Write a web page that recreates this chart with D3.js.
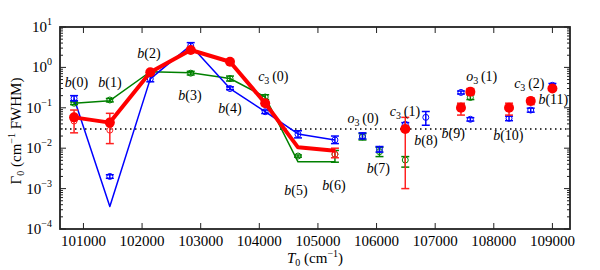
<!DOCTYPE html>
<html>
<head>
<meta charset="utf-8">
<script src="https://cdnjs.cloudflare.com/ajax/libs/d3/7.8.5/d3.min.js"></script>
<style>
  body { margin: 0; background: #fff; }
  text { font-family: "Liberation Serif", "DejaVu Serif", serif; fill: #000; }
</style>
</head>
<body>
<svg width="600" height="270"></svg>
<script>
// band positions (cm^-1)
const bandX = [100840, 101450, 102140, 102830, 103500, 104100, 104660, 105290];

// calculated widths (lines)
const blueLine  = [0.17, 0.00036, 0.52, 3.5, 0.30, 0.080, 0.0225, 0.016];
const greenLine = [0.13, 0.15, 0.78, 0.74, 0.53, 0.185, 0.0046, 0.0046];
const redLine   = [0.058, 0.043, 0.76, 2.7, 1.38, 0.13, 0.0105, 0.0087];

// measured widths: x, value, low, high
const blueX   = [100840, 101450, 102140, 102830, 103500, 104100, 104660, 105290, 105760, 106050, 106490, 106840, 107440, 107600, 108260, 108630, 109000];
const blueV   = [0.17, 0.0020, 0.52, 3.4, 0.30, 0.080, 0.022, 0.016, 0.020, 0.0094, 0.039, 0.058, 0.24, 0.052, 0.055, 0.088, 0.36];
const blueLo  = [0.15, 0.0018, 0.44, 2.9, 0.28, 0.072, 0.018, 0.013, 0.017, 0.0080, 0.035, 0.037, 0.22, 0.047, 0.048, 0.078, 0.32];
const blueHi  = [0.20, 0.0022, 0.60, 4.1, 0.33, 0.088, 0.027, 0.020, 0.024, 0.011, 0.043, 0.081, 0.26, 0.057, 0.062, 0.098, 0.40];

const greenX  = [100840, 101450, 102830, 103500, 104100, 104660, 105290, 105760, 106050, 106490, 107440, 107600];
const greenV  = [0.13, 0.156, 0.72, 0.53, 0.185, 0.0064, 0.0071, 0.019, 0.0082, 0.0051, 0.11, 0.18];
const greenLo = [0.12, 0.14, 0.65, 0.46, 0.16, 0.0060, 0.0045, 0.016, 0.0062, 0.0034, 0.09, 0.16];
const greenHi = [0.14, 0.17, 0.80, 0.61, 0.21, 0.0068, 0.0088, 0.023, 0.0105, 0.0062, 0.125, 0.21];

const redOpenX  = [100840, 101450, 105290];
const redOpenV  = [0.047, 0.028, 0.0071];
const redOpenLo = [0.024, 0.013, 0.0058];
const redOpenHi = [0.088, 0.073, 0.0100];

const redDotX  = [100840, 101450, 102140, 102830, 103500, 104100, 106490, 107440, 107600, 108260, 108630, 109000];
const redDotV  = [0.058, 0.043, 0.76, 2.7, 1.38, 0.13, 0.030, 0.10, 0.25, 0.10, 0.147, 0.30];
const redDotLo = [null, null, null, null, null, null, 0.001, 0.066, 0.21, 0.066, 0.12, null];
const redDotHi = [null, null, null, null, null, null, 0.058, 0.13, 0.30, 0.13, 0.175, null];

// band labels: [letter, subscript, number], placed in data units
const labelName = [["b","","0"],["b","","1"],["b","","2"],["b","","3"],["b","","4"],["c","3","0"],["b","","5"],["b","","6"],
                   ["o","3","0"],["b","","7"],["c","3","1"],["b","","8"],["b","","9"],["o","3","1"],["b","","10"],["c","3","2"],["b","","11"]];
const labelX = [100880, 101453, 102118, 102818, 103500, 104239, 104626, 105274, 105769, 106030, 106485, 106843, 107309, 107794, 108248, 108606, 109015];
const labelY = [0.44, 0.44, 2.24, 0.207, 0.097, 0.61, 0.00092, 0.00126, 0.0575, 0.0032, 0.085, 0.016, 0.0234, 0.61, 0.0212, 0.418, 0.162];

const xTicks = [101000, 102000, 103000, 104000, 105000, 106000, 107000, 108000, 109000];
const yDecades = [-4, -3, -2, -1, 0, 1];
const threshold = 0.03;

const svg = d3.select("svg");
const margin = {top: 27, right: 30, bottom: 41, left: 60};
const width = 600 - margin.left - margin.right,
      height = 270 - margin.top - margin.bottom;
const g = svg.append("g").attr("transform", "translate(" + margin.left + "," + margin.top + ")");

const x = d3.scaleLinear().domain([100600, 109300]).range([0, width]);
const y = d3.scaleLog().domain([1e-4, 10]).range([height, 0]);

svg.append("defs").append("clipPath").attr("id", "clip")
  .append("rect").attr("width", width).attr("height", height);
const plot = g.append("g").attr("clip-path", "url(#clip)");

// dotted threshold
plot.append("line")
  .attr("x1", 0).attr("x2", width)
  .attr("y1", y(threshold)).attr("y2", y(threshold))
  .attr("stroke", "#000").attr("stroke-width", 1.5)
  .attr("stroke-dasharray", "1.5,3.5");

// lines
const line = d3.line().x(d => x(d[0])).y(d => y(d[1]));
function drawLine(vals, color, w) {
  plot.append("path")
    .datum(bandX.map((b, i) => [b, vals[i]]))
    .attr("d", line)
    .attr("fill", "none")
    .attr("stroke", color)
    .attr("stroke-width", w)
    .attr("stroke-linejoin", "round");
}
drawLine(greenLine, "#008000", 1.5);
drawLine(blueLine, "#0000ff", 1.5);

// error bars + open markers
function drawErr(xs, vs, lo, hi, color, open) {
  const grp = plot.append("g");
  xs.forEach((xv, i) => {
    if (lo[i] != null) {
      const cx = x(xv);
      grp.append("line").attr("x1", cx).attr("x2", cx)
        .attr("y1", y(lo[i])).attr("y2", y(hi[i]))
        .attr("stroke", color).attr("stroke-width", 1.5);
      [lo[i], hi[i]].forEach(v => {
        grp.append("line").attr("x1", cx - 4).attr("x2", cx + 4)
          .attr("y1", y(v)).attr("y2", y(v))
          .attr("stroke", color).attr("stroke-width", 1.5);
      });
    }
    if (open) {
      grp.append("circle").attr("cx", x(xv)).attr("cy", y(vs[i])).attr("r", 3)
        .attr("fill", "none").attr("stroke", color).attr("stroke-width", 1);
    }
  });
}
drawErr(greenX, greenV, greenLo, greenHi, "#008000", true);
drawErr(redOpenX, redOpenV, redOpenLo, redOpenHi, "#ff2020", true);
drawErr(blueX, blueV, blueLo, blueHi, "#0000ff", true);

drawLine(redLine, "#ff0000", 4);
drawErr(redDotX, redDotV, redDotLo, redDotHi, "#ff2020", false);
plot.append("g").selectAll("circle")
  .data(redDotX.map((xv, i) => [xv, redDotV[i]]))
  .join("circle")
  .attr("cx", d => x(d[0])).attr("cy", d => y(d[1])).attr("r", 5)
  .attr("fill", "#ff0000");

// band labels
const lab = g.append("g").style("font-size", "14px");
labelName.forEach((n, i) => {
  const t = lab.append("text")
    .attr("x", x(labelX[i])).attr("y", y(labelY[i]) + 5)
    .attr("text-anchor", "middle");
  t.append("tspan").attr("font-style", "italic").text(n[0]);
  if (n[1]) {
    t.append("tspan").attr("font-size", "10px").attr("dy", 3).text(n[1]);
    t.append("tspan").attr("dy", -3).text("\u2009(" + n[2] + ")");
  } else {
    t.append("tspan").text("(" + n[2] + ")");
  }
});

// ticks (inside, all four sides)
const tk = g.append("g").attr("stroke", "#222").attr("stroke-width", 1);
xTicks.forEach(v => {
  tk.append("line").attr("x1", x(v)).attr("x2", x(v)).attr("y1", height).attr("y2", height - 6);
  tk.append("line").attr("x1", x(v)).attr("x2", x(v)).attr("y1", 0).attr("y2", 6);
});
yDecades.forEach(p => {
  const v = Math.pow(10, p);
  tk.append("line").attr("x1", 0).attr("x2", 6).attr("y1", y(v)).attr("y2", y(v));
  tk.append("line").attr("x1", width).attr("x2", width - 6).attr("y1", y(v)).attr("y2", y(v));
  if (p < 1) {
    for (let m = 2; m < 10; m++) {
      const mv = m * v;
      tk.append("line").attr("x1", 0).attr("x2", 3).attr("y1", y(mv)).attr("y2", y(mv));
      tk.append("line").attr("x1", width).attr("x2", width - 3).attr("y1", y(mv)).attr("y2", y(mv));
    }
  }
});

// frame
g.append("rect").attr("width", width).attr("height", height)
  .attr("fill", "none").attr("stroke", "#222").attr("stroke-width", 1.8);

// tick labels
const tl = g.append("g").style("font-size", "15px");
xTicks.forEach(v => {
  tl.append("text").attr("x", x(v)).attr("y", height + 17)
    .attr("text-anchor", "middle").text(v);
});
yDecades.forEach(p => {
  const t = tl.append("text").attr("x", -8).attr("y", y(Math.pow(10, p)) + 5)
    .attr("text-anchor", "end");
  t.append("tspan").text("10");
  t.append("tspan").attr("font-size", "10px").attr("dy", -7)
    .text(p < 0 ? "\u2212" + (-p) : p);
});

// axis titles
const xt = g.append("text").attr("x", width / 2).attr("y", height + 34)
  .attr("text-anchor", "middle").style("font-size", "15px");
xt.append("tspan").attr("font-style", "italic").text("T");
xt.append("tspan").attr("font-size", "10px").attr("dy", 3).text("0");
xt.append("tspan").attr("dy", -3).text(" (cm");
xt.append("tspan").attr("font-size", "10px").attr("dy", -6).text("\u22121");
xt.append("tspan").attr("dy", 6).text(")");

const yt = svg.append("text")
  .attr("transform", "translate(21," + (margin.top + height / 2 + 3) + ") rotate(-90)")
  .attr("text-anchor", "middle").style("font-size", "15px");
yt.append("tspan").text("\u0393");
yt.append("tspan").attr("font-size", "10px").attr("dy", 3).text("0");
yt.append("tspan").attr("dy", -3).text(" (cm");
yt.append("tspan").attr("font-size", "10px").attr("dy", -6).text("\u22121");
yt.append("tspan").attr("dy", 6).text(" FWHM)");
</script>
</body>
</html>
